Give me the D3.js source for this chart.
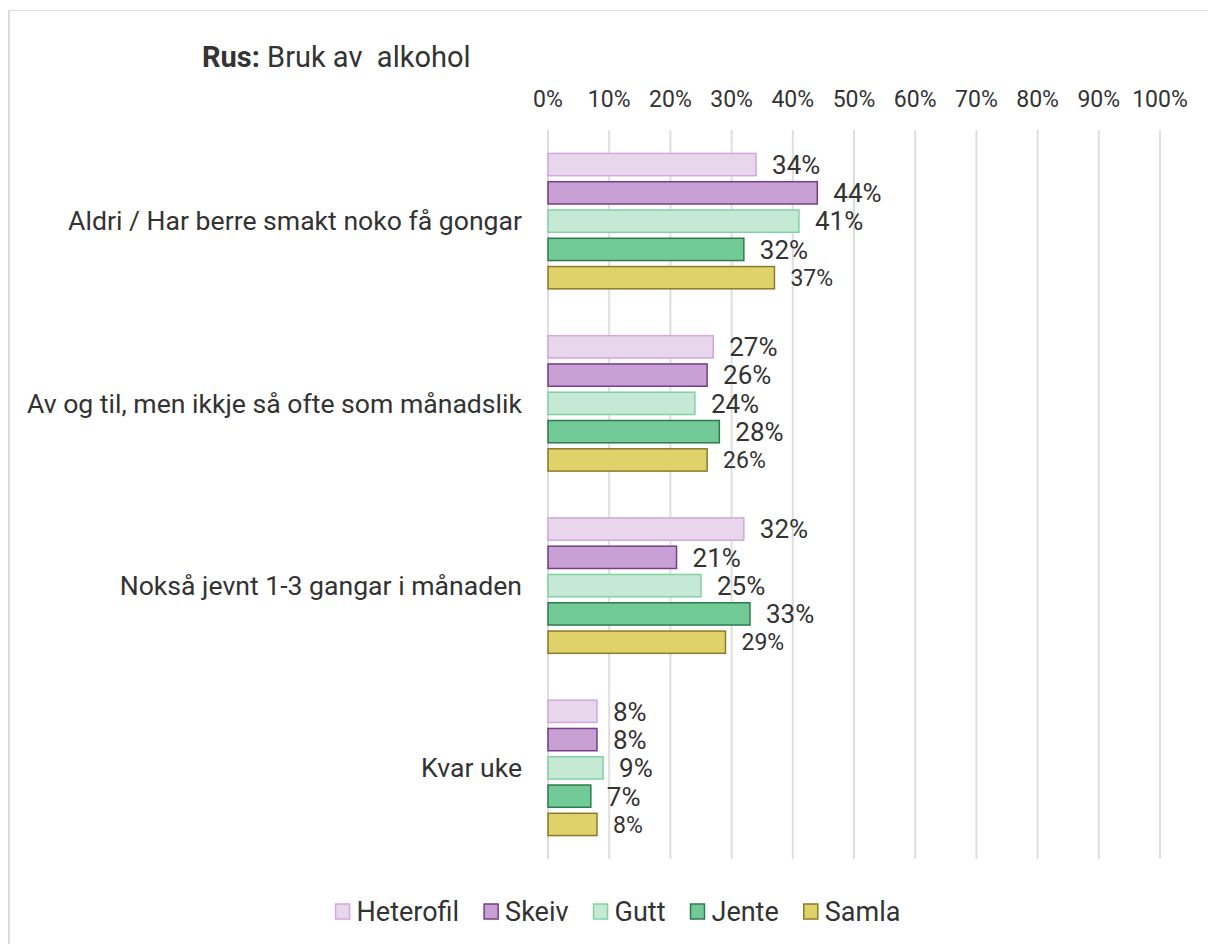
<!DOCTYPE html>
<html>
<head>
<meta charset="utf-8">
<script src="https://cdn.jsdelivr.net/npm/d3@7"></script>
<style>
  body { margin: 0; background: #fff; }
  svg { display: block; font-family: Roboto, "Noto Sans", sans-serif; }
</style>
</head>
<body>
<svg id="chart" width="1208" height="944"></svg>
<script>
// categories, top to bottom
const categories = [
    "Aldri / Har berre smakt noko få gongar",
    "Av og til, men ikkje så ofte som månadslik",
    "Nokså jevnt 1-3 gangar i månaden",
    "Kvar uke"
];

const seriesNames = ["Heterofil", "Skeiv", "Gutt", "Jente", "Samla"];

// values in percent, one per category
const heterofil = [34, 27, 32, 8];
const skeiv     = [44, 26, 21, 8];
const gutt      = [41, 24, 25, 9];
const jente     = [32, 28, 33, 7];
const samla     = [37, 26, 29, 8];

const tickValues = [0, 10, 20, 30, 40, 50, 60, 70, 80, 90, 100];

const seriesValues = [heterofil, skeiv, gutt, jente, samla];

const fills   = ["#e8d6ed", "#c9a0d4", "#c6e9d6", "#72cb96", "#e0d26a"];
const strokes = ["#d3a7dc", "#763d88", "#7fd3a2", "#2f7a4f", "#8a7a2a"];

const textColor = "#333333";

const svg = d3.select("#chart");

// outer frame (only top and left edges are visible)
svg.append("line").attr("x1", 9).attr("x2", 1208).attr("y1", 10.5).attr("y2", 10.5)
    .attr("stroke", "#dcdcdc").attr("stroke-width", 1);
svg.append("line").attr("x1", 9).attr("x2", 9).attr("y1", 10).attr("y2", 944)
    .attr("stroke", "#dcdcdc").attr("stroke-width", 2);

// plot area
const plot = {left: 548, right: 1160, top: 130, bottom: 859};

const x = d3.scaleLinear().domain([0, 100]).range([plot.left, plot.right]);

const y0 = d3.scaleBand()
    .domain(categories)
    .range([plot.top, plot.bottom])
    .paddingInner(0.257)
    .paddingOuter(0.1285);

const y1 = d3.scaleBand()
    .domain(seriesNames)
    .range([0, y0.bandwidth()])
    .paddingInner(0.212)
    .paddingOuter(0);

// title
const title = svg.append("text")
    .attr("x", 202).attr("y", 67)
    .attr("fill", textColor)
    .style("font-size", "29px");
title.append("tspan").style("font-weight", "bold").text("Rus:");
title.append("tspan").text(" Bruk av\u00a0 alkohol");

// gridlines
svg.append("g")
    .selectAll("line")
    .data(tickValues)
    .join("line")
    .attr("x1", d => x(d)).attr("x2", d => x(d))
    .attr("y1", plot.top).attr("y2", plot.bottom)
    .attr("stroke", "#dedede")
    .attr("stroke-width", 2);

// tick labels on top
svg.append("g")
    .selectAll("text")
    .data(tickValues)
    .join("text")
    .attr("x", d => x(d))
    .attr("y", 107)
    .attr("text-anchor", "middle")
    .attr("fill", textColor)
    .style("font-size", "23px")
    .text(d => d + "%");

// category labels
svg.append("g")
    .selectAll("text")
    .data(categories)
    .join("text")
    .attr("x", 522)
    .attr("y", d => y0(d) + y0.bandwidth() / 2)
    .attr("dy", "0.35em")
    .attr("text-anchor", "end")
    .attr("fill", textColor)
    .style("font-size", "26.6px")
    .text(d => d);

// bars + value labels
const rows = [];
categories.forEach((c, ci) => {
    seriesNames.forEach((s, si) => {
        rows.push({cat: c, series: s, si: si, value: seriesValues[si][ci]});
    });
});

const groups = svg.append("g");

groups.selectAll("rect")
    .data(rows)
    .join("rect")
    .attr("x", x(0))
    .attr("y", d => y0(d.cat) + y1(d.series))
    .attr("width", d => x(d.value) - x(0))
    .attr("height", y1.bandwidth())
    .attr("fill", d => fills[d.si])
    .attr("stroke", d => strokes[d.si])
    .attr("stroke-width", 1.5);

groups.selectAll("text")
    .data(rows)
    .join("text")
    .attr("x", d => x(d.value) + 16)
    .attr("y", d => y0(d.cat) + y1(d.series) + y1.bandwidth() / 2)
    .attr("dy", "0.36em")
    .attr("fill", textColor)
    .style("font-size", d => d.series == "Samla" ? "23px" : "26px")
    .text(d => d.value + "%");

// legend
const legend = svg.append("g");
const items = legend.selectAll("g")
    .data(seriesNames)
    .join("g");

items.append("rect")
    .attr("x", 0).attr("y", 904)
    .attr("width", 14).attr("height", 15)
    .attr("fill", (d, i) => fills[i])
    .attr("stroke", (d, i) => strokes[i])
    .attr("stroke-width", 1.5);

items.append("text")
    .attr("x", 21).attr("y", 921)
    .attr("fill", textColor)
    .style("font-size", "27px")
    .text(d => d);

// lay out legend items side by side, centered
let offset = 0;
const widths = [];
items.each(function() {
    const w = 21 + this.querySelector("text").getComputedTextLength();
    widths.push(w);
});
const gap = 25;
const total = d3.sum(widths) + gap * (widths.length - 1);
let start = 618 - total / 2;
items.attr("transform", (d, i) => {
    const t = "translate(" + (start + offset) + ",0)";
    offset += widths[i] + gap;
    return t;
});
</script>
</body>
</html>
